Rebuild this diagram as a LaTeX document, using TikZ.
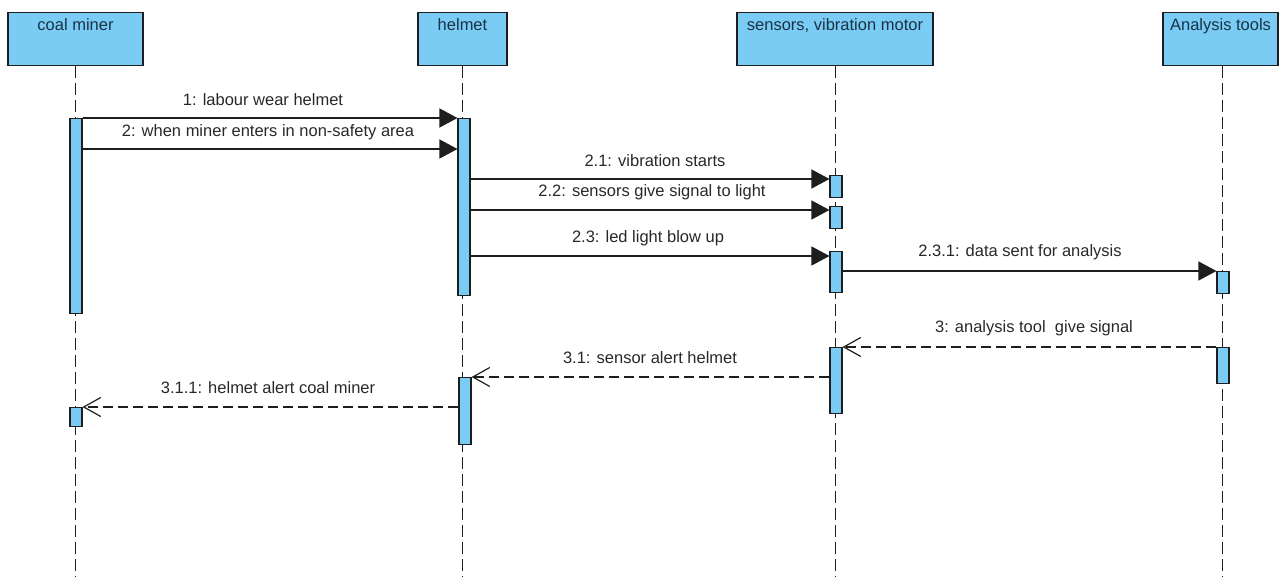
\documentclass[tikz,border=0pt]{standalone}
\usepackage{fontspec}
\setmainfont{Liberation Sans}
\usetikzlibrary{arrows.meta}
\definecolor{vpblue}{RGB}{122,204,245}
\definecolor{headtxt}{RGB}{25,50,70}
\definecolor{msgtxt}{RGB}{40,40,40}
\definecolor{edge}{RGB}{30,30,30}

\begin{document}
\begin{tikzpicture}[x=1pt,y=-1pt,
  every node/.style={font=\fontsize{16.5}{18}\selectfont},
  headbox/.style={draw=edge, line width=1.3pt, fill=vpblue, minimum height=53pt, inner sep=0pt, anchor=north},
  headtext/.style={text=headtxt, anchor=base, inner sep=0pt},
  lifeline/.style={draw=edge, line width=1pt, dash pattern=on 12pt off 5pt},
  actbar/.style={draw=edge, line width=1.1pt, fill=vpblue, minimum width=12pt, inner sep=0pt, anchor=north},
  sync/.style={draw=edge, line width=1.3pt, -{Triangle[length=18pt,width=19pt]}},
  reply/.style={draw=edge, line width=1.2pt, dash pattern=on 10pt off 5pt,
    -{Straight Barb[length=17pt,width=19pt,line width=1.2pt]}},
  msglabel/.style={text=msgtxt, anchor=base, inner sep=0pt},
]
\useasboundingbox (0,0) rectangle (1283,577);

% participant heads
\node[headbox, minimum width=135pt] (cm) at (75.5,12) {};
\node[headbox, minimum width=89pt]  (hm) at (462.5,12) {};
\node[headbox, minimum width=196pt] (sv) at (835,12) {};
\node[headbox, minimum width=115pt] (at) at (1220.5,12) {};
\node[headtext] (cmT) at (75.5,31) {coal miner};
\node[headtext] (hmT) at (462.5,31) {helmet};
\node[headtext] (svT) at (835,31) {sensors, vibration motor};
\node[headtext] (atT) at (1220.5,31) {Analysis tools};

% lifelines
\coordinate (cmEnd) at (75.5,577);
\coordinate (hmEnd) at (462.5,577);
\coordinate (svEnd) at (835,577);
\coordinate (atEnd) at (1222,577);
\draw[lifeline] (cm.south) -- (cmEnd);
\draw[lifeline] (hm.south) -- (hmEnd);
\draw[lifeline] (sv.south) -- (svEnd);
\draw[lifeline] (at.south -| atEnd) -- (atEnd);

% activation bars
\node[actbar, minimum height=195pt] (A1) at (76,118) {};
\node[actbar, minimum height=19pt]  (A2) at (76,407) {};
\node[actbar, minimum height=177pt] (H1) at (464,118) {};
\node[actbar, minimum height=67pt]  (H2) at (465,377) {};
\node[actbar, minimum height=22pt]  (S1) at (836,175) {};
\node[actbar, minimum height=22pt]  (S2) at (836,206) {};
\node[actbar, minimum height=41pt]  (S3) at (836,251) {};
\node[actbar, minimum height=66pt]  (S4) at (836,347) {};
\node[actbar, minimum height=22pt]  (T1) at (1223,271) {};
\node[actbar, minimum height=36pt]  (T2) at (1223,347) {};

% message heights
\coordinate (y1)   at (0,118);
\coordinate (y2)   at (0,149);
\coordinate (y21)  at (0,179);
\coordinate (y22)  at (0,210);
\coordinate (y23)  at (0,256);
\coordinate (y231) at (0,271);
\coordinate (y3)   at (0,347);
\coordinate (y31)  at (0,377);
\coordinate (y311) at (0,407);

% synchronous messages
\draw[sync] (A1.east |- y1) -- (H1.west |- y1);
\draw[sync] (A1.east |- y2) -- (H1.west |- y2);
\draw[sync] (H1.east |- y21) -- (S1.west |- y21);
\draw[sync] (H1.east |- y22) -- (S2.west |- y22);
\draw[sync] (H1.east |- y23) -- (S3.west |- y23);
\draw[sync] (S3.east |- y231) -- (T1.west |- y231);

% replies
\draw[reply] (T2.west |- y3) -- (S4.east |- y3);
\draw[reply] (S4.west |- y31) -- (H2.east |- y31);
\draw[reply] (H2.west |- y311) -- (A2.east |- y311);

% message labels
\node[msglabel] (l1)   at (263,106)  {1: labour wear helmet};
\node[msglabel] (l2)   at (268,137)  {2: when miner enters in non-safety area};
\node[msglabel] (l21)  at (655,167)  {2.1: vibration starts};
\node[msglabel] (l22)  at (652,197)  {2.2: sensors give signal to light};
\node[msglabel] (l23)  at (648,243)  {2.3: led light blow up};
\node[msglabel] (l231) at (1020,257) {2.3.1: data sent for analysis};
\node[msglabel] (l3)   at (1034,333) {3: analysis tool\ \ give signal};
\node[msglabel] (l31)  at (650,363)  {3.1: sensor alert helmet};
\node[msglabel] (l311) at (268,394)  {3.1.1: helmet alert coal miner};
\end{tikzpicture}
\end{document}
